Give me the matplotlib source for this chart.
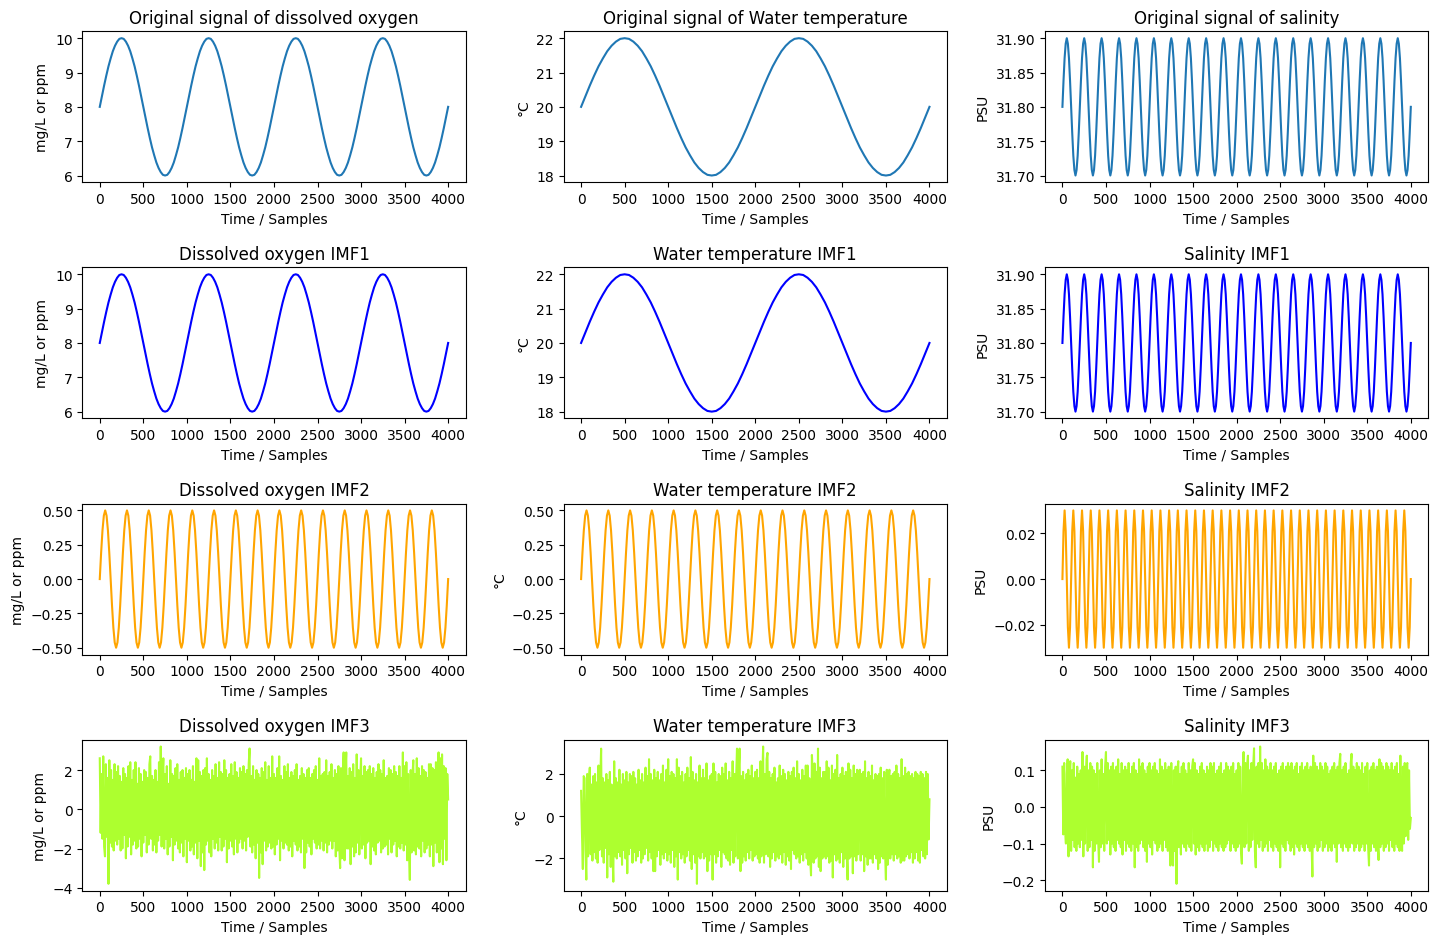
import numpy as np
import matplotlib.pyplot as plt

# values, evenly spaced over samples 0..4000
do_signal = [
    8.00, 8.31, 8.62, 8.91, 9.18, 9.41, 9.62, 9.78, 9.90, 9.98, 10.00, 9.98, 9.90, 9.78, 9.62, 9.41, 9.18, 8.91, 8.62, 8.31,
    8.00, 7.69, 7.38, 7.09, 6.82, 6.59, 6.38, 6.22, 6.10, 6.02, 6.00, 6.02, 6.10, 6.22, 6.38, 6.59, 6.82, 7.09, 7.38, 7.69,
    8.00, 8.31, 8.62, 8.91, 9.18, 9.41, 9.62, 9.78, 9.90, 9.98, 10.00, 9.98, 9.90, 9.78, 9.62, 9.41, 9.18, 8.91, 8.62, 8.31,
    8.00, 7.69, 7.38, 7.09, 6.82, 6.59, 6.38, 6.22, 6.10, 6.02, 6.00, 6.02, 6.10, 6.22, 6.38, 6.59, 6.82, 7.09, 7.38, 7.69,
    8.00, 8.31, 8.62, 8.91, 9.18, 9.41, 9.62, 9.78, 9.90, 9.98, 10.00, 9.98, 9.90, 9.78, 9.62, 9.41, 9.18, 8.91, 8.62, 8.31,
    8.00, 7.69, 7.38, 7.09, 6.82, 6.59, 6.38, 6.22, 6.10, 6.02, 6.00, 6.02, 6.10, 6.22, 6.38, 6.59, 6.82, 7.09, 7.38, 7.69,
    8.00, 8.31, 8.62, 8.91, 9.18, 9.41, 9.62, 9.78, 9.90, 9.98, 10.00, 9.98, 9.90, 9.78, 9.62, 9.41, 9.18, 8.91, 8.62, 8.31,
    8.00, 7.69, 7.38, 7.09, 6.82, 6.59, 6.38, 6.22, 6.10, 6.02, 6.00, 6.02, 6.10, 6.22, 6.38, 6.59, 6.82, 7.09, 7.38, 7.69,
    8.00,
]

wt_signal = [
    20.00, 20.31, 20.62, 20.91, 21.18, 21.41, 21.62, 21.78, 21.90, 21.98, 22.00, 21.98, 21.90, 21.78, 21.62, 21.41, 21.18, 20.91, 20.62, 20.31,
    20.00, 19.69, 19.38, 19.09, 18.82, 18.59, 18.38, 18.22, 18.10, 18.02, 18.00, 18.02, 18.10, 18.22, 18.38, 18.59, 18.82, 19.09, 19.38, 19.69,
    20.00, 20.31, 20.62, 20.91, 21.18, 21.41, 21.62, 21.78, 21.90, 21.98, 22.00, 21.98, 21.90, 21.78, 21.62, 21.41, 21.18, 20.91, 20.62, 20.31,
    20.00, 19.69, 19.38, 19.09, 18.82, 18.59, 18.38, 18.22, 18.10, 18.02, 18.00, 18.02, 18.10, 18.22, 18.38, 18.59, 18.82, 19.09, 19.38, 19.69,
    20.00,
]

sal_signal = [
    31.800, 31.838, 31.871, 31.892, 31.900, 31.892, 31.871, 31.838, 31.800, 31.762, 31.729, 31.708, 31.700, 31.708, 31.729, 31.762,
    31.800, 31.838, 31.871, 31.892, 31.900, 31.892, 31.871, 31.838, 31.800, 31.762, 31.729, 31.708, 31.700, 31.708, 31.729, 31.762,
    31.800, 31.838, 31.871, 31.892, 31.900, 31.892, 31.871, 31.838, 31.800, 31.762, 31.729, 31.708, 31.700, 31.708, 31.729, 31.762,
    31.800, 31.838, 31.871, 31.892, 31.900, 31.892, 31.871, 31.838, 31.800, 31.762, 31.729, 31.708, 31.700, 31.708, 31.729, 31.762,
    31.800, 31.838, 31.871, 31.892, 31.900, 31.892, 31.871, 31.838, 31.800, 31.762, 31.729, 31.708, 31.700, 31.708, 31.729, 31.762,
    31.800, 31.838, 31.871, 31.892, 31.900, 31.892, 31.871, 31.838, 31.800, 31.762, 31.729, 31.708, 31.700, 31.708, 31.729, 31.762,
    31.800, 31.838, 31.871, 31.892, 31.900, 31.892, 31.871, 31.838, 31.800, 31.762, 31.729, 31.708, 31.700, 31.708, 31.729, 31.762,
    31.800, 31.838, 31.871, 31.892, 31.900, 31.892, 31.871, 31.838, 31.800, 31.762, 31.729, 31.708, 31.700, 31.708, 31.729, 31.762,
    31.800, 31.838, 31.871, 31.892, 31.900, 31.892, 31.871, 31.838, 31.800, 31.762, 31.729, 31.708, 31.700, 31.708, 31.729, 31.762,
    31.800, 31.838, 31.871, 31.892, 31.900, 31.892, 31.871, 31.838, 31.800, 31.762, 31.729, 31.708, 31.700, 31.708, 31.729, 31.762,
    31.800, 31.838, 31.871, 31.892, 31.900, 31.892, 31.871, 31.838, 31.800, 31.762, 31.729, 31.708, 31.700, 31.708, 31.729, 31.762,
    31.800, 31.838, 31.871, 31.892, 31.900, 31.892, 31.871, 31.838, 31.800, 31.762, 31.729, 31.708, 31.700, 31.708, 31.729, 31.762,
    31.800, 31.838, 31.871, 31.892, 31.900, 31.892, 31.871, 31.838, 31.800, 31.762, 31.729, 31.708, 31.700, 31.708, 31.729, 31.762,
    31.800, 31.838, 31.871, 31.892, 31.900, 31.892, 31.871, 31.838, 31.800, 31.762, 31.729, 31.708, 31.700, 31.708, 31.729, 31.762,
    31.800, 31.838, 31.871, 31.892, 31.900, 31.892, 31.871, 31.838, 31.800, 31.762, 31.729, 31.708, 31.700, 31.708, 31.729, 31.762,
    31.800, 31.838, 31.871, 31.892, 31.900, 31.892, 31.871, 31.838, 31.800, 31.762, 31.729, 31.708, 31.700, 31.708, 31.729, 31.762,
    31.800, 31.838, 31.871, 31.892, 31.900, 31.892, 31.871, 31.838, 31.800, 31.762, 31.729, 31.708, 31.700, 31.708, 31.729, 31.762,
    31.800, 31.838, 31.871, 31.892, 31.900, 31.892, 31.871, 31.838, 31.800, 31.762, 31.729, 31.708, 31.700, 31.708, 31.729, 31.762,
    31.800, 31.838, 31.871, 31.892, 31.900, 31.892, 31.871, 31.838, 31.800, 31.762, 31.729, 31.708, 31.700, 31.708, 31.729, 31.762,
    31.800, 31.838, 31.871, 31.892, 31.900, 31.892, 31.871, 31.838, 31.800, 31.762, 31.729, 31.708, 31.700, 31.708, 31.729, 31.762,
    31.800,
]

do_imf2 = [
    0.000, 0.191, 0.354, 0.462, 0.500, 0.462, 0.354, 0.191, 0.000, -0.191, -0.354, -0.462, -0.500, -0.462, -0.354, -0.191,
    0.000, 0.191, 0.354, 0.462, 0.500, 0.462, 0.354, 0.191, 0.000, -0.191, -0.354, -0.462, -0.500, -0.462, -0.354, -0.191,
    0.000, 0.191, 0.354, 0.462, 0.500, 0.462, 0.354, 0.191, 0.000, -0.191, -0.354, -0.462, -0.500, -0.462, -0.354, -0.191,
    0.000, 0.191, 0.354, 0.462, 0.500, 0.462, 0.354, 0.191, 0.000, -0.191, -0.354, -0.462, -0.500, -0.462, -0.354, -0.191,
    0.000, 0.191, 0.354, 0.462, 0.500, 0.462, 0.354, 0.191, 0.000, -0.191, -0.354, -0.462, -0.500, -0.462, -0.354, -0.191,
    0.000, 0.191, 0.354, 0.462, 0.500, 0.462, 0.354, 0.191, 0.000, -0.191, -0.354, -0.462, -0.500, -0.462, -0.354, -0.191,
    0.000, 0.191, 0.354, 0.462, 0.500, 0.462, 0.354, 0.191, 0.000, -0.191, -0.354, -0.462, -0.500, -0.462, -0.354, -0.191,
    0.000, 0.191, 0.354, 0.462, 0.500, 0.462, 0.354, 0.191, 0.000, -0.191, -0.354, -0.462, -0.500, -0.462, -0.354, -0.191,
    0.000, 0.191, 0.354, 0.462, 0.500, 0.462, 0.354, 0.191, 0.000, -0.191, -0.354, -0.462, -0.500, -0.462, -0.354, -0.191,
    0.000, 0.191, 0.354, 0.462, 0.500, 0.462, 0.354, 0.191, 0.000, -0.191, -0.354, -0.462, -0.500, -0.462, -0.354, -0.191,
    0.000, 0.191, 0.354, 0.462, 0.500, 0.462, 0.354, 0.191, 0.000, -0.191, -0.354, -0.462, -0.500, -0.462, -0.354, -0.191,
    0.000, 0.191, 0.354, 0.462, 0.500, 0.462, 0.354, 0.191, 0.000, -0.191, -0.354, -0.462, -0.500, -0.462, -0.354, -0.191,
    0.000, 0.191, 0.354, 0.462, 0.500, 0.462, 0.354, 0.191, 0.000, -0.191, -0.354, -0.462, -0.500, -0.462, -0.354, -0.191,
    0.000, 0.191, 0.354, 0.462, 0.500, 0.462, 0.354, 0.191, 0.000, -0.191, -0.354, -0.462, -0.500, -0.462, -0.354, -0.191,
    0.000, 0.191, 0.354, 0.462, 0.500, 0.462, 0.354, 0.191, 0.000, -0.191, -0.354, -0.462, -0.500, -0.462, -0.354, -0.191,
    0.000, 0.191, 0.354, 0.462, 0.500, 0.462, 0.354, 0.191, 0.000, -0.191, -0.354, -0.462, -0.500, -0.462, -0.354, -0.191,
    0.000,
]

wt_imf2 = list(do_imf2)  # same curve in the reference

sal_imf2 = [
    0.000, 0.021, 0.030, 0.021, 0.000, -0.021, -0.030, -0.021, 0.000, 0.021, 0.030, 0.021, 0.000, -0.021, -0.030, -0.021,
    0.000, 0.021, 0.030, 0.021, 0.000, -0.021, -0.030, -0.021, 0.000, 0.021, 0.030, 0.021, 0.000, -0.021, -0.030, -0.021,
    0.000, 0.021, 0.030, 0.021, 0.000, -0.021, -0.030, -0.021, 0.000, 0.021, 0.030, 0.021, 0.000, -0.021, -0.030, -0.021,
    0.000, 0.021, 0.030, 0.021, 0.000, -0.021, -0.030, -0.021, 0.000, 0.021, 0.030, 0.021, 0.000, -0.021, -0.030, -0.021,
    0.000, 0.021, 0.030, 0.021, 0.000, -0.021, -0.030, -0.021, 0.000, 0.021, 0.030, 0.021, 0.000, -0.021, -0.030, -0.021,
    0.000, 0.021, 0.030, 0.021, 0.000, -0.021, -0.030, -0.021, 0.000, 0.021, 0.030, 0.021, 0.000, -0.021, -0.030, -0.021,
    0.000, 0.021, 0.030, 0.021, 0.000, -0.021, -0.030, -0.021, 0.000, 0.021, 0.030, 0.021, 0.000, -0.021, -0.030, -0.021,
    0.000, 0.021, 0.030, 0.021, 0.000, -0.021, -0.030, -0.021, 0.000, 0.021, 0.030, 0.021, 0.000, -0.021, -0.030, -0.021,
    0.000, 0.021, 0.030, 0.021, 0.000, -0.021, -0.030, -0.021, 0.000, 0.021, 0.030, 0.021, 0.000, -0.021, -0.030, -0.021,
    0.000, 0.021, 0.030, 0.021, 0.000, -0.021, -0.030, -0.021, 0.000, 0.021, 0.030, 0.021, 0.000, -0.021, -0.030, -0.021,
    0.000, 0.021, 0.030, 0.021, 0.000, -0.021, -0.030, -0.021, 0.000, 0.021, 0.030, 0.021, 0.000, -0.021, -0.030, -0.021,
    0.000, 0.021, 0.030, 0.021, 0.000, -0.021, -0.030, -0.021, 0.000, 0.021, 0.030, 0.021, 0.000, -0.021, -0.030, -0.021,
    0.000, 0.021, 0.030, 0.021, 0.000, -0.021, -0.030, -0.021, 0.000, 0.021, 0.030, 0.021, 0.000, -0.021, -0.030, -0.021,
    0.000, 0.021, 0.030, 0.021, 0.000, -0.021, -0.030, -0.021, 0.000, 0.021, 0.030, 0.021, 0.000, -0.021, -0.030, -0.021,
    0.000, 0.021, 0.030, 0.021, 0.000, -0.021, -0.030, -0.021, 0.000, 0.021, 0.030, 0.021, 0.000, -0.021, -0.030, -0.021,
    0.000, 0.021, 0.030, 0.021, 0.000, -0.021, -0.030, -0.021, 0.000, 0.021, 0.030, 0.021, 0.000, -0.021, -0.030, -0.021,
    0.000, 0.021, 0.030, 0.021, 0.000, -0.021, -0.030, -0.021, 0.000, 0.021, 0.030, 0.021, 0.000, -0.021, -0.030, -0.021,
    0.000, 0.021, 0.030, 0.021, 0.000, -0.021, -0.030, -0.021, 0.000, 0.021, 0.030, 0.021, 0.000, -0.021, -0.030, -0.021,
    0.000, 0.021, 0.030, 0.021, 0.000, -0.021, -0.030, -0.021, 0.000, 0.021, 0.030, 0.021, 0.000, -0.021, -0.030, -0.021,
    0.000, 0.021, 0.030, 0.021, 0.000, -0.021, -0.030, -0.021, 0.000, 0.021, 0.030, 0.021, 0.000, -0.021, -0.030, -0.021,
    0.000,
]

# noise components, one value every 10 samples (estimated from the dense band)
do_imf3 = [
    2.6, -1.2, 1.8, -1.5, 2.7, -1.9, -2.4, 2.3, -1.4, 1.6, -3.8, 2.5, -1.7, 2.0, -1.9, 1.5, -2.1, 2.3, -1.6, 1.9,
    -1.8, 2.2, -1.5, 1.7, -2.1, 1.4, -2.0, 2.1, -1.3, 1.8, -2.5, 1.6, -1.9, 2.2, -1.4, 2.4, -2.3, 1.5, -1.8, 2.0,
    -1.6, 2.4, -2.0, 1.3, -1.9, 2.1, -1.5, 1.8, -2.4, 1.4, -1.7, 2.0, -1.3, 1.9, -2.2, 1.6, -1.8, 2.3, 2.7, -1.5,
    1.7, -2.1, 1.5, -1.8, 2.0, -2.2, 1.4, -1.6, 2.4, -1.3, 3.2, -1.9, 1.6, 2.6, -2.0, 1.8, -1.5, 2.2, -2.3, 1.3,
    -1.9, 2.5, -1.4, 1.8, -2.6, 1.7, -1.8, 2.1, -1.6, 2.3, -2.0, 1.5, -2.2, 1.9, -1.7, 2.0, -2.4, 1.6, -1.5, 2.1,
    -2.7, 1.8, -1.6, 2.0, -2.1, 1.5, -1.9, 2.2, -2.3, 1.4, -1.7, 2.6, -2.5, 2.5, -1.6, 1.9, -2.9, 1.7, -2.2, 2.0,
    -3.1, 2.1, -1.8, 2.6, -1.6, 1.8, -2.2, 1.5, -2.4, 2.0, -1.5, 1.7, -2.0, 2.3, -1.7, 1.6, -2.1, 2.4, -1.4, 1.9,
    -2.1, 1.8, -1.9, 2.5, -1.5, 2.0, -2.7, 1.6, -2.0, 1.8, -1.6, 2.3, -1.9, 1.7, -2.3, 2.4, -1.5, 1.9, -2.2, 1.6,
    -1.7, 2.1, -1.5, 1.9, -2.0, 2.2, -1.6, 1.8, -2.1, 2.0, -1.4, 2.3, 3.1, -1.9, 1.7, -2.2, 2.2, -1.8, 1.5, -2.5,
    2.0, -1.7, 1.8, -3.5, 1.6, -2.2, 2.1, -2.8, 1.9, -1.6, 2.4, -2.1, 1.5, -1.9, 2.2, -1.7, 1.6, -2.0, 2.7, -1.9,
    1.8, -2.3, 1.6, -1.8, 2.1, -1.5, 2.7, -2.6, 1.7, -1.6, 1.5, -2.0, 2.2, -1.7, 1.9, -1.8, 2.3, -2.1, 1.6, -1.9,
    1.9, -2.4, 1.7, -1.6, 2.0, -1.8, 2.3, -2.1, 1.5, -1.9, 1.7, -2.2, 2.1, -1.5, 1.8, -3.0, 1.6, -2.2, 2.0, -1.7,
    2.1, -1.9, 1.6, -2.3, 1.8, -1.5, 2.0, -1.7, 2.2, -2.0, 1.5, -1.8, 2.6, -2.0, 1.7, -1.6, 1.8, -2.1, 1.9, -1.7,
    2.5, -2.2, 1.7, -1.8, 1.9, -1.6, 2.3, -2.0, 1.6, -1.6, 2.0, -2.4, 1.8, -2.1, 2.2, -1.9, -3.0, 2.1, -2.5, 1.6,
    2.9, -2.6, 1.8, 2.9, -2.0, 1.7, -2.0, 2.1, -2.8, 1.9, -1.9, 2.3, -2.4, 1.6, -2.2, 2.8, -1.7, 2.0, -2.3, 1.5,
    2.6, -2.0, 1.7, -1.8, 2.2, -2.5, 1.9, -1.7, 2.0, -1.6, 2.2, -2.8, 1.8, -1.9, 2.1, -2.1, 1.6, -2.3, 1.9, -1.7,
    2.3, -1.6, 2.0, -2.2, 1.8, -2.0, 2.5, -1.9, 1.6, -1.8, 1.7, -2.3, 2.1, -1.5, 2.0, -2.2, 1.8, -1.8, 2.2, -1.6,
    1.9, -2.4, 1.7, -1.9, 2.2, -2.0, 1.6, -1.7, 2.9, -2.1, 2.2, -1.8, 2.4, -2.6, 1.8, -1.9, -3.6, 2.0, -2.2, 1.7,
    2.5, -2.1, 1.8, -2.3, 2.6, -1.9, 2.1, -2.0, 1.7, -2.4, 2.2, -1.6, 2.0, -2.2, 1.9, -2.0, 1.6, -1.8, 2.3, -2.4,
    2.3, -1.8, 2.1, -2.9, 2.0, -1.7, 2.4, -2.2, 1.8, 2.9, -2.7, 2.6, -2.0, 2.8, -2.8, 2.2, -1.5, 2.1, -2.6, 1.8,
    0.5,
]

wt_imf3 = [
    1.2, -0.8, -2.5, 1.9, 1.8, -1.6, -3.0, 2.0, -1.9, 1.7, 2.3, -1.8, 1.5, -2.1, 1.9, -1.7, 2.0, -2.0, 1.6, -2.2,
    2.4, -1.6, 1.7, 3.2, -1.9, 1.8, -2.2, 1.6, -1.5, 2.0, -2.9, 1.7, -1.8, 2.1, -2.4, 1.5, -1.7, -3.1, 2.6, -1.9,
    1.8, -2.0, 1.6, -1.7, 2.2, -1.9, 1.5, -2.3, 2.0, -1.6, 1.7, -2.0, 2.1, -2.7, 1.6, -1.8, 2.0, -1.5, 1.9, -2.2,
    2.1, -1.7, 1.8, -2.1, 1.5, -1.9, 2.2, -1.6, 1.7, -2.2, 2.0, -2.0, 1.6, -1.8, 2.3, -1.5, 1.9, -2.1, 2.7, -1.7,
    2.0, -2.0, 1.7, -2.6, 2.2, -2.6, 1.8, -1.9, 2.1, -1.6, 1.7, -2.3, 2.0, -1.8, 2.4, -2.0, 1.6, -1.7, 2.2, -2.1,
    2.7, -1.8, 1.9, -2.2, 2.1, -1.6, 2.0, -2.4, 1.8, -1.9, 2.7, -3.0, 2.3, -1.7, 1.9, -2.0, 2.1, -1.8, 1.6, -2.2,
    2.0, -1.9, 2.3, -1.6, 1.8, -2.1, 2.8, -2.5, 2.1, -1.8, 1.7, -2.2, 2.0, -3.2, 1.6, -1.9, 2.4, -2.0, 1.8, -1.7,
    2.2, -2.0, 1.8, -1.9, 2.5, -2.6, 1.7, -2.1, 1.9, -1.8, 2.0, -3.0, 2.5, -1.8, 2.1, -2.2, 1.6, -1.9, 2.0, -1.6,
    1.9, -2.4, 2.3, -1.7, 2.0, -1.8, 2.5, -2.0, 1.7, -2.1, 2.1, -2.3, 1.8, -1.6, 2.6, -2.2, 2.0, -1.9, 1.8, 3.2,
    -2.0, 2.2, 3.2, -2.6, 1.9, -2.2, 2.1, -1.9, 1.7, -2.1, 2.0, -1.7, 2.2, -2.0, 1.9, -1.6, 2.4, -2.1, 1.8, -1.9,
    2.1, -1.8, 2.2, -2.0, 1.8, -2.2, 2.6, -1.9, 1.7, 3.3, -2.2, 2.0, -1.8, 2.7, 3.0, -1.9, 2.1, -2.4, 1.8, -2.0,
    2.0, -1.7, 2.3, -2.1, 1.6, -1.9, 1.8, -2.0, 2.4, -1.8, 1.9, -2.2, 2.2, -1.7, 2.0, -2.3, 1.7, -1.9, 2.1, -2.1,
    1.9, -2.5, 2.1, -1.6, 2.3, -1.8, 1.8, -2.0, 2.6, -1.9, 2.0, -2.2, 1.7, -1.8, 2.2, -2.1, 1.9, -1.7, 2.4, -2.0,
    2.4, -2.3, 1.8, -2.0, -2.8, 2.9, 1.9, -2.2, 2.5, -2.0, 2.1, -1.9, 3.2, -2.4, 2.3, -2.6, 1.8, -2.0, 2.1, -1.9,
    2.1, -2.0, 2.6, -1.9, 2.3, -2.2, 1.7, -2.1, 2.4, -2.9, 2.0, -1.8, 2.2, -2.1, 2.9, -2.0, 1.8, -2.2, 2.0, -1.7,
    2.3, -2.4, 1.9, -2.0, 2.1, -1.8, -3.0, 2.5, -2.0, 2.2, -1.9, 1.8, -2.7, 2.4, -1.9, 2.0, -2.1, 2.2, -1.8, 1.7,
    2.2, -2.1, 2.0, -1.8, 2.1, -2.6, 2.6, -1.9, 1.8, -2.3, 2.1, -2.0, 1.9, -2.0, 2.4, -2.2, 1.7, -1.8, 2.0, -2.0,
    1.9, -2.5, 2.0, -2.2, 2.3, -1.9, 1.8, -2.0, 2.1, -1.7, -3.0, 2.2, -2.3, 1.8, 2.2, -2.0, 1.9, -1.8, 2.0, -2.1,
    2.1, -1.8, 2.4, -2.0, 2.0, -1.9, 1.8, -2.2, 2.7, -2.1, 1.9, -2.1, 2.3, -1.9, 2.0, -1.8, 2.1, -2.0, 1.9, -1.7,
    2.0, -2.2, 1.8, -2.0, 2.1, -1.7, 2.0, -2.1, 1.9, -2.2, 2.1, -1.6, 2.0, -1.9, 1.8, -2.0, 2.1, -1.8, 2.0, -1.1,
    0.8,
]

sal_imf3 = [
    0.11, -0.075, 0.12, -0.06, -0.10, 0.09, 0.13, -0.135, 0.08, 0.125, -0.12, 0.10, -0.09, 0.12, -0.11, 0.08, -0.12, 0.11, -0.10, 0.09,
    -0.11, 0.10, -0.09, 0.15, -0.135, 0.11, -0.10, 0.09, 0.14, -0.12, 0.10, -0.11, 0.12, -0.09, 0.11, -0.165, 0.10, -0.12, 0.09, -0.10,
    0.12, -0.09, -0.15, 0.10, -0.11, 0.13, -0.10, 0.09, -0.12, 0.11, 0.15, -0.10, 0.12, -0.09, 0.10, -0.13, 0.11, -0.10, 0.12, -0.11,
    0.10, -0.12, 0.11, -0.09, 0.13, -0.10, 0.09, -0.11, 0.12, -0.13, 0.10, -0.09, 0.11, -0.12, 0.10, -0.10, 0.12, -0.11, 0.09, -0.12,
    0.11, -0.10, 0.12, -0.165, 0.10, -0.11, 0.09, -0.12, 0.13, -0.10, 0.11, -0.09, 0.12, -0.11, 0.10, -0.12, 0.09, -0.15, 0.11, -0.10,
    0.12, -0.11, 0.10, -0.13, 0.11, -0.09, 0.12, -0.10, 0.10, -0.12, 0.09, -0.11, 0.13, -0.10, 0.11, -0.12, 0.10, -0.09, 0.12, -0.11,
    0.10, -0.12, 0.11, -0.10, -0.16, 0.12, -0.11, -0.16, 0.10, -0.12, 0.11, -0.21, 0.10, 0.125, -0.11, 0.09, -0.13, 0.11, -0.10, 0.12,
    -0.11, 0.10, -0.12, 0.09, -0.10, 0.12, -0.11, 0.10, -0.12, 0.11, 0.13, -0.10, 0.12, -0.13, 0.10, -0.11, 0.09, -0.12, 0.11, -0.10,
    0.12, -0.11, 0.10, -0.12, 0.09, -0.10, 0.11, -0.12, 0.10, -0.11, 0.12, -0.09, 0.11, -0.12, 0.12, -0.10, 0.09, -0.11, 0.10, -0.12,
    0.11, -0.10, 0.12, -0.11, 0.09, -0.12, 0.10, -0.11, 0.12, -0.10, 0.11, -0.09, 0.10, -0.12, 0.11, -0.10, 0.12, -0.11, 0.09, -0.12,
    0.10, -0.11, 0.12, -0.10, 0.11, -0.12, -0.155, 0.10, 0.15, -0.11, 0.12, -0.10, 0.11, 0.14, -0.12, 0.10, -0.11, 0.12, -0.09, 0.11,
    0.16, -0.12, -0.165, 0.11, -0.10, 0.12, -0.11, 0.165, -0.09, 0.12, -0.12, 0.10, -0.11, 0.13, -0.10, 0.11, -0.12, 0.10, -0.09, 0.12,
    -0.11, 0.10, -0.12, 0.11, -0.10, 0.12, -0.11, 0.09, -0.12, 0.10, -0.165, 0.11, -0.10, 0.12, -0.11, 0.10, -0.12, 0.11, -0.09, 0.12,
    -0.10, 0.11, -0.12, 0.12, -0.11, 0.10, -0.13, 0.11, -0.10, 0.12, -0.11, 0.09, -0.12, 0.11, -0.10, 0.12, -0.11, 0.10, -0.12, 0.11,
    -0.10, 0.12, -0.11, 0.10, -0.12, 0.11, -0.10, -0.19, 0.14, -0.11, 0.12, -0.10, 0.11, -0.12, 0.10, -0.11, 0.12, -0.09, 0.11, -0.12,
    0.10, -0.11, 0.12, -0.10, 0.11, -0.12, 0.09, -0.11, 0.10, -0.12, 0.11, -0.10, 0.12, -0.11, 0.10, -0.15, 0.11, -0.10, 0.12, 0.145,
    -0.11, 0.10, -0.12, 0.11, -0.10, 0.12, -0.11, 0.09, -0.12, 0.10, -0.11, 0.12, 0.145, -0.10, 0.11, -0.12, 0.10, -0.11, 0.12, -0.10,
    0.11, -0.12, 0.10, -0.11, 0.12, -0.10, 0.09, -0.12, 0.11, -0.10, 0.12, -0.11, -0.16, 0.10, -0.12, 0.11, -0.10, 0.12, -0.11, 0.10,
    -0.12, 0.11, -0.10, -0.145, 0.13, -0.11, 0.12, -0.10, 0.11, -0.12, 0.10, -0.11, 0.12, -0.10, 0.11, -0.12, 0.10, -0.09, 0.12, -0.11,
    0.10, -0.12, 0.11, -0.10, 0.12, -0.11, 0.09, -0.12, 0.14, -0.10, -0.12, 0.11, -0.10, 0.12, -0.08, 0.11, 0.12, -0.09, 0.10, -0.06,
    -0.03,
]

ylabels = ['mg/L or ppm', '°C', 'PSU']

panel_rows = [
    (['Original signal of dissolved oxygen', 'Original signal of Water temperature', 'Original signal of salinity'],
     [do_signal, wt_signal, sal_signal], '#1f77b4'),
    (['Dissolved oxygen IMF1', 'Water temperature IMF1', 'Salinity IMF1'],
     [do_signal, wt_signal, sal_signal], 'blue'),
    (['Dissolved oxygen IMF2', 'Water temperature IMF2', 'Salinity IMF2'],
     [do_imf2, wt_imf2, sal_imf2], 'orange'),
    (['Dissolved oxygen IMF3', 'Water temperature IMF3', 'Salinity IMF3'],
     [do_imf3, wt_imf3, sal_imf3], 'greenyellow'),
]

fig, axes = plt.subplots(4, 3, figsize=(14.37, 9.45), dpi=100)
plt.subplots_adjust(left=0.0573, right=0.9939, top=0.9658, bottom=0.0564, wspace=0.256, hspace=0.563)

for r, (titles, series, color) in enumerate(panel_rows):
    for c in range(3):
        ax = axes[r, c]
        y = series[c]
        x = np.linspace(0, 4000, len(y))
        ax.plot(x, y, color=color)
        ax.set_title(titles[c])
        ax.set_xlabel('Time / Samples')
        ax.set_ylabel(ylabels[c])

plt.savefig('out.png')
